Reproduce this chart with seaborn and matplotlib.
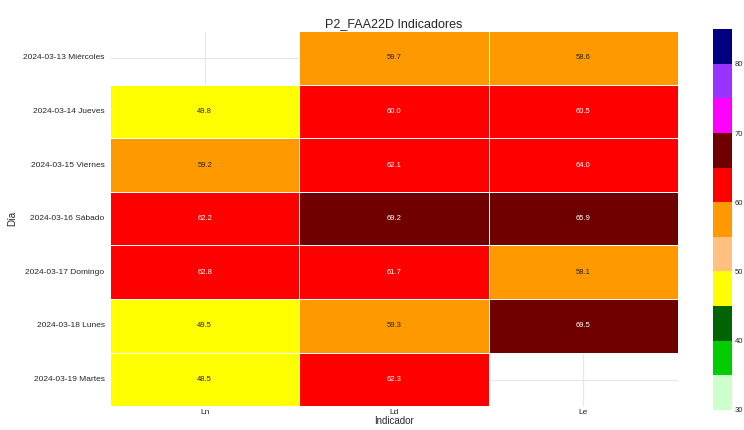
import numpy as np
import pandas as pd
import seaborn as sns
import matplotlib.pyplot as plt
from matplotlib.colors import ListedColormap, BoundaryNorm

dias = ['2024-03-13 Miércoles', '2024-03-14 Jueves', '2024-03-15 Viernes',
        '2024-03-16 Sábado', '2024-03-17 Domingo', '2024-03-18 Lunes',
        '2024-03-19 Martes']
indicadores = ['Ln', 'Ld', 'Le']
ln = [np.nan, 49.8, 59.2, 62.2, 62.8, 49.5, 48.5]
ld = [59.7, 60.0, 62.1, 69.2, 61.7, 59.3, 62.3]
le = [58.6, 60.5, 64.0, 65.9, 58.1, 69.5, np.nan]

limites = [30, 35, 40, 45, 50, 55, 60, 65, 70, 75, 80, 85]
colores = ['#ccffcc', '#00cc00', '#006400', '#ffff00', '#ffc080', '#ff9900',
           '#ff0000', '#700000', '#ff00ff', '#9933ff', '#000080']

df = pd.DataFrame({'Ln': ln, 'Ld': ld, 'Le': le}, index=dias)[indicadores]

sns.set_theme(style='whitegrid')
plt.rcParams['font.family'] = ['Liberation Sans', 'DejaVu Sans']

cmap = ListedColormap(colores)
norm = BoundaryNorm(limites, cmap.N)

fig = plt.figure(figsize=(7.44, 4.3), dpi=100)
ax = fig.add_axes([0.148, 0.055, 0.763, 0.873])
cax = fig.add_axes([0.958, 0.047, 0.026, 0.885])

sns.heatmap(df, ax=ax, cbar_ax=cax, cmap=cmap, norm=norm, annot=True, fmt='.1f',
            linewidths=0.5, linecolor='white', annot_kws={'fontsize': 5.5},
            cbar_kws={'ticks': [30, 40, 50, 60, 70, 80]})
ax.set_axisbelow(True)
ax.grid(True, color='#e6e6e6', linewidth=0.8)
ax.set_title('P2_FAA22D Indicadores', fontsize=9, pad=3)
ax.set_xlabel('Indicador', fontsize=7, labelpad=0)
ax.set_ylabel('Día', fontsize=7)
ax.tick_params(axis='both', labelsize=6, length=0, pad=4)
ax.tick_params(axis='x', pad=2)
ax.tick_params(axis='y', rotation=0)
cax.minorticks_off()
cax.tick_params(which='both', labelsize=5.5, length=0, pad=2)
cax.set_frame_on(False)

fig.savefig('out.png', dpi=100)
